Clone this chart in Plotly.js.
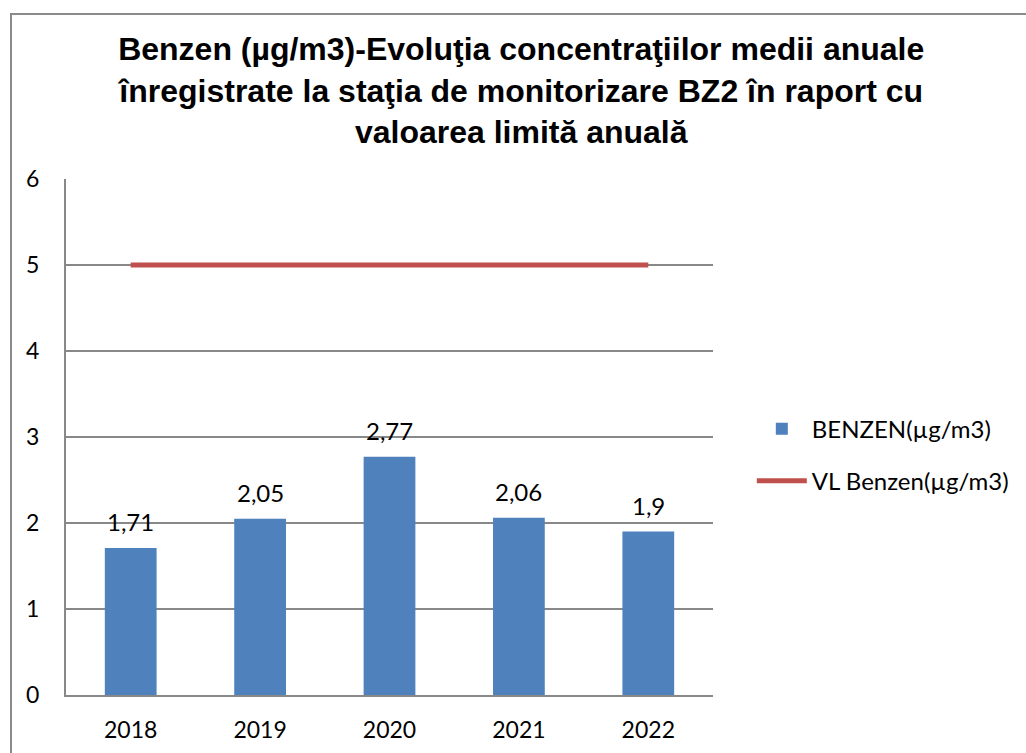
<!DOCTYPE html>
<html>
<head>
<meta charset="utf-8">
<script src="https://cdn.plot.ly/plotly-3.0.1.min.js"></script>
<style>
html,body{margin:0;padding:0;background:#fff;overflow:hidden;}
#frame{position:absolute;left:10px;top:13px;width:1100px;height:800px;border:2px solid #8a8a8a;box-sizing:border-box;}
#chart{position:absolute;left:0;top:0;width:1026px;height:753px;}
</style>
</head>
<body>
<div id="frame"></div>
<div id="chart"></div>
<script>
const years = ['2018','2019','2020','2021','2022'];
const benzen = [1.71, 2.05, 2.77, 2.06, 1.9];
const limit = [5, 5, 5, 5, 5];
const labels = benzen.map(v => String(v).replace('.', ','));

const F = 'Lato, Noto Sans, sans-serif';
const traces = [
  {type:'bar', name:'BENZEN(µg/m3)', x:years, y:benzen, marker:{color:'#4F81BD'},
   legendgroup:'a'},
  {type:'scatter', mode:'lines', name:'VL Benzen(µg/m3)', x:years, y:limit,
   legendgroup:'b',
   line:{color:'#C0504D', width:5}}
];

// category axes take annotation positions as category index
const annotations = years.map((yr, i) => ({
  x: i, y: benzen[i], xref:'x', yref:'y', text: labels[i], showarrow:false,
  yanchor:'bottom', yshift:10, font:{family:F, size:24, color:'#000'}
}));

const layout = {
  width:1026, height:753,
  paper_bgcolor:'rgba(0,0,0,0)', plot_bgcolor:'rgba(0,0,0,0)',
  margin:{l:66, r:313, t:179, b:58},
  title:{text:'Benzen (µg/m3)-Evoluţia concentraţiilor medii anuale<br>înregistrate la staţia de monitorizare BZ2 în raport cu<br>valoarea limită anuală',
    font:{family:'Liberation Sans, Arial, sans-serif', size:32, color:'#000', weight:'bold'},
    x:0.508, xanchor:'center', y:0.92, yanchor:'top'},
  bargap:0.6,
  annotations: annotations,
  showlegend:true,
  legend:{x:1.06, xanchor:'left', y:0.465, yanchor:'middle', tracegroupgap:18, itemwidth:50,
    font:{family:F, size:24, color:'#000'}},
  xaxis:{type:'category', range:[-0.5, 4.5], showline:true, linecolor:'#888', linewidth:2, ticks:'',
    tickfont:{family:F, size:23, color:'#000'}, ticklabelstandoff:13},
  yaxis:{range:[0,6], dtick:1, showgrid:true, gridcolor:'#888', gridwidth:1.5,
    showline:true, linecolor:'#888', linewidth:2, zeroline:false, ticks:'',
    tickfont:{family:F, size:23, color:'#000'}, ticklabelstandoff:20}
};

Plotly.newPlot('chart', traces, layout, {displayModeBar:false, staticPlot:true});
</script>
</body>
</html>
